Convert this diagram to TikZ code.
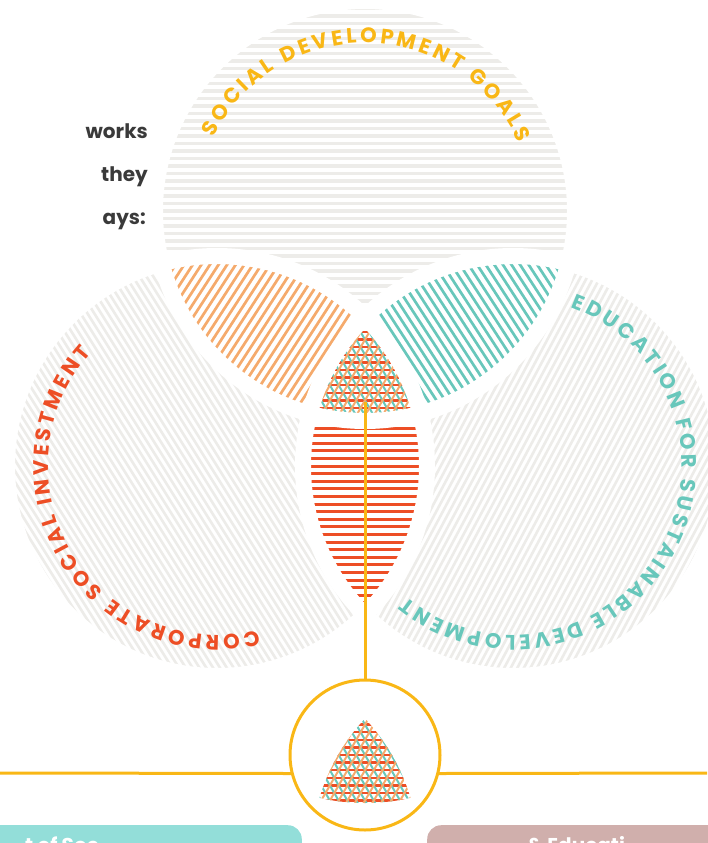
\documentclass[tikz,border=0pt]{standalone}
\usepackage{fontspec}
\newfontfamily\arcfont{Poppins}
\usetikzlibrary{decorations.text,calc}

\definecolor{stripegray}{RGB}{237,236,233}
\definecolor{sdgyellow}{RGB}{249,183,22}
\definecolor{csired}{RGB}{237,78,37}
\definecolor{esdteal}{RGB}{104,199,187}
\definecolor{lensorange}{RGB}{245,170,108}
\definecolor{panelteal}{RGB}{147,222,217}
\definecolor{panelrose}{RGB}{208,175,172}
\definecolor{leadgray}{RGB}{58,58,58}

% parallel lines through a centre, turned by an angle
\newcommand{\stripes}[4]{%
  \begin{scope}[shift={(#1)},rotate=#2]
    \foreach \k in {-45,...,45}
      \draw[#4] (-240,\k*#3) -- (240,\k*#3);
  \end{scope}}
\newcommand{\crosshatch}[1]{%
  \stripes{#1}{0}{7.6}{redhatch}
  \stripes{#1}{120}{7.6}{tealhatch}
  \stripes{#1}{60}{7.6}{orangehatch}}

\tikzset{
  rim/.style={draw=white, line width=16pt},
  graystripe/.style={draw=stripegray, line width=3.6pt},
  graydiag/.style={draw=stripegray, line width=2.6pt},
  orangestripe/.style={draw=lensorange, line width=2.7pt},
  tealstripe/.style={draw=esdteal, line width=2.7pt},
  redstripe/.style={draw=csired, line width=3pt},
  redhatch/.style={draw=csired, line width=2.4pt},
  tealhatch/.style={draw=esdteal, line width=2pt},
  orangehatch/.style={draw=lensorange, line width=2pt},
  yline/.style={draw=sdgyellow, line width=3pt},
  hubring/.style={circle, draw=sdgyellow, line width=3pt, minimum size=150pt, inner sep=0pt},
  panel/.style={rounded corners=14pt, minimum height=60pt, inner sep=0pt},
  paneltext/.style={text=white, font=\arcfont\bfseries\fontsize{20}{20}\selectfont, inner sep=0pt},
  lead/.style={text=leadgray, font=\arcfont\bfseries\fontsize{20}{20}\selectfont, inner sep=0pt},
  arctext/.style={decorate, decoration={text along path, text align={fit to path}, text={#1}}}
}

\begin{document}
\begin{tikzpicture}[x=1pt,y=1pt]
\useasboundingbox (0,0) rectangle (707,-843);

\coordinate (sdg) at (365,-211);
\coordinate (csi) at (217,-466);
\coordinate (esd) at (513,-466);
\coordinate (core) at (365,-370);

% the three circles
\begin{scope}
  \clip (sdg) circle[radius=210pt];
  \stripes{sdg}{0}{7.5}{graystripe}
\end{scope}
\begin{scope}
  \clip (csi) circle[radius=210pt];
  \fill[white] (csi) circle[radius=210pt];
  \stripes{csi}{122}{5.8}{graydiag}
\end{scope}
\begin{scope}
  \clip (esd) circle[radius=210pt];
  \fill[white] (esd) circle[radius=210pt];
  \stripes{esd}{62}{5.8}{graydiag}
\end{scope}

% overlaps
\begin{scope}
  \clip (sdg) circle[radius=210pt];
  \clip (csi) circle[radius=210pt];
  \fill[white] (sdg) circle[radius=210pt];
  \stripes{sdg}{57}{7.2}{orangestripe}
\end{scope}
\begin{scope}
  \clip (sdg) circle[radius=210pt];
  \clip (esd) circle[radius=210pt];
  \fill[white] (sdg) circle[radius=210pt];
  \stripes{sdg}{123}{7.2}{tealstripe}
\end{scope}
\begin{scope}
  \clip (csi) circle[radius=210pt];
  \clip (esd) circle[radius=210pt];
  \fill[white] (csi) circle[radius=210pt];
  \stripes{csi}{0}{7.6}{redstripe}
\end{scope}
\begin{scope}
  \clip (sdg) circle[radius=210pt];
  \clip (csi) circle[radius=210pt];
  \clip (esd) circle[radius=210pt];
  \fill[white] (sdg) circle[radius=210pt];
  \crosshatch{core}
\end{scope}

\draw[rim] (sdg) circle[radius=210pt];
\draw[rim] (csi) circle[radius=210pt];
\draw[rim] (esd) circle[radius=210pt];

% names round the circles
\path[arctext={|\arcfont\bfseries\fontsize{21}{21}\selectfont\color{sdgyellow}|SOCIAL DEVELOPMENT GOALS}]
  ($(sdg)+(154:168pt)$) arc[start angle=154, end angle=24, radius=168pt];
\path[arctext={|\arcfont\bfseries\fontsize{21}{21}\selectfont\color{csired}|CORPORATE SOCIAL INVESTMENT}]
  ($(csi)+(-76:169pt)$) arc[start angle=-76, end angle=-222, radius=169pt];
\path[arctext={|\arcfont\bfseries\fontsize{21}{21}\selectfont\color{esdteal}|EDUCATION FOR SUSTAINABLE DEVELOPMENT}]
  ($(esd)+(70:169pt)$) arc[start angle=70, end angle=-129, radius=169pt];

% stem and hub
\node[hubring] (hub) at (365,-755) {};
\begin{scope}
  \clip ($(sdg)+(0,-390)$) circle[radius=202pt];
  \clip ($(csi)+(0,-390)$) circle[radius=202pt];
  \clip ($(esd)+(0,-390)$) circle[radius=202pt];
  \crosshatch{hub}
\end{scope}
\coordinate (stem) at (365,-402);
\coordinate (westend) at (0,-773);
\coordinate (eastend) at (707,-773);
\draw[yline] (stem) -- (hub.north);
\draw[yline] (hub.194) -- (westend);
\draw[yline] (hub.346) -- (eastend);

% panels
\node[panel, fill=panelteal, anchor=north east, minimum width=340pt] (leftpanel) at (302,-825) {};
\node[panel, fill=panelrose, anchor=north west, minimum width=320pt] (rightpanel) at (427,-825) {};
\node[paneltext, anchor=base west] (lefttag) at (25,-852) {t of Soc};
\node[paneltext, anchor=base west] (righttag) at (527,-852) {\& Educati};

% lead text
\node[lead, anchor=base east] (lead1) at (148,-138) {works};
\node[lead, anchor=base east] (lead2) at (148,-181) {they};
\node[lead, anchor=base east] (lead3) at (146,-224) {ays:};
\end{tikzpicture}
\end{document}
